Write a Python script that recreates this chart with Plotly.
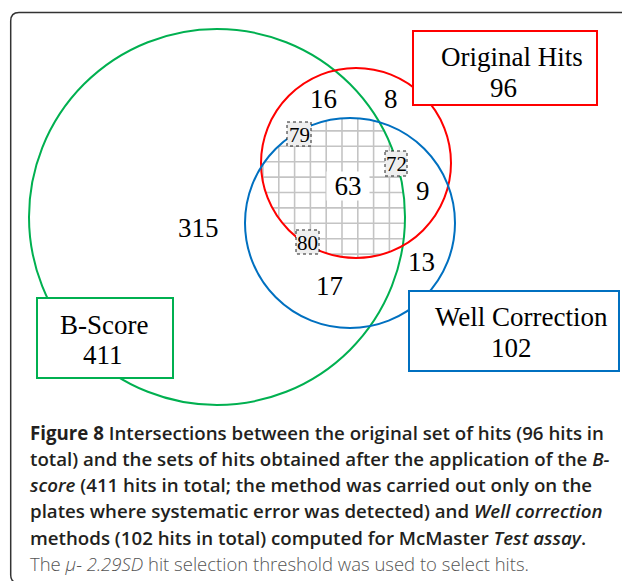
import plotly.graph_objects as go
import numpy as np

W, H = 622, 581

# ---------------- data ----------------
set_names = ["B-Score", "Original Hits", "Well Correction"]
set_totals = [411, 96, 102]
region_names = ["B only", "Orig only (in B)", "Orig only", "Orig & Well", "Well only", "B & Well", "All three"]
region_counts = [315, 16, 8, 9, 13, 17, 63]
plate_labels = [79, 72, 80]

caption_lines = [
    "<b>Figure 8</b> Intersections between the original set of hits (96 hits in",
    "total) and the sets of hits obtained after the application of the <i>B-</i>",
    "<i>score</i> (411 hits in total; the method was carried out only on the",
    "plates where systematic error was detected) and <i>Well correction</i>",
    "methods (102 hits in total) computed for McMaster <i>Test assay</i>.",
]
note_line = "The <i>μ- 2.29SD</i> hit selection threshold was used to select hits."

# ---------------- layout geometry (pixels) ----------------
circles = {  # cx, cy, r
    "B-Score": (217, 217, 188),
    "Original Hits": (356, 163, 95),
    "Well Correction": (350, 223, 105),
}
colors = {"B-Score": "#00B050", "Original Hits": "#FF0000", "Well Correction": "#0070C0"}
boxes = {  # x0, y0, x1, y1
    "B-Score": (37, 298, 173, 378),
    "Original Hits": (413, 31, 597, 105),
    "Well Correction": (409, 291, 619, 371),
}
box_text_pos = {  # (name center), (total center)
    "B-Score": ((104, 325), (103, 355)),
    "Original Hits": ((512, 57), (503, 88)),
    "Well Correction": ((521, 317), (511, 348)),
}
region_pos = [(198, 228), (323, 99), (391, 99), (423, 191), (421, 262), (329, 286), (348, 186)]
plate_boxes = [(287, 122, 311, 146), (385, 151, 407, 176), (296, 230, 319, 254)]

fig = go.Figure()

# hatch grid inside the triple intersection
def interval(c, val, axis):
    cx, cy, r = c
    d = (val - cx) if axis == "x" else (val - cy)
    if abs(d) >= r:
        return None
    h = np.sqrt(r * r - d * d)
    mid = cy if axis == "x" else cx
    return (mid - h, mid + h)

gx, gy = [], []
step_x, step_y = 15.8, 15.4
xs = 263 + step_x * np.arange(-2, 14)
ys = 161.7 + step_y * np.arange(-4, 10)
for x in xs:
    ivs = [interval(c, x, "x") for c in circles.values()]
    if any(i is None for i in ivs):
        continue
    lo = max(i[0] for i in ivs); hi = min(i[1] for i in ivs)
    if hi > lo:
        gx += [x, x, None]; gy += [lo, hi, None]
for y in ys:
    ivs = [interval(c, y, "y") for c in circles.values()]
    if any(i is None for i in ivs):
        continue
    lo = max(i[0] for i in ivs); hi = min(i[1] for i in ivs)
    if hi > lo:
        gx += [lo, hi, None]; gy += [y, y, None]
fig.add_trace(go.Scatter(x=gx, y=gy, mode="lines", line=dict(color="#c4c4c4", width=1.6),
                         hoverinfo="skip", showlegend=False))

shapes = []
# outer frame
shapes.append(dict(type="path", xref="x", yref="y",
                   path="M 640,12.5 L 19,12.5 Q 10.7,12.5 10.7,21 L 10.7,575 Q 10.7,583 19,583 L 640,583",
                   line=dict(color="#333333", width=1.5)))
for name in ["B-Score", "Original Hits", "Well Correction"]:
    cx, cy, r = circles[name]
    shapes.append(dict(type="circle", xref="x", yref="y", x0=cx - r, x1=cx + r, y0=cy - r, y1=cy + r,
                       line=dict(color=colors[name], width=2)))
for name in set_names:
    x0, y0, x1, y1 = boxes[name]
    shapes.append(dict(type="rect", xref="x", yref="y", x0=x0, x1=x1, y0=y0, y1=y1,
                       line=dict(color=colors[name], width=2), fillcolor="white"))
for (x0, y0, x1, y1) in plate_boxes:
    shapes.append(dict(type="rect", xref="x", yref="y", x0=x0, x1=x1, y0=y0, y1=y1,
                       line=dict(color="#222222", width=1, dash="dot"), fillcolor="#efefef"))

ann = []
serif = "Liberation Serif"
for name, tot in zip(set_names, set_totals):
    (nx, ny), (tx, ty) = box_text_pos[name]
    ann.append(dict(x=nx, y=ny, text=name, showarrow=False, font=dict(family=serif, size=27, color="black")))
    ann.append(dict(x=tx, y=ty, text=str(tot), showarrow=False, font=dict(family=serif, size=27, color="black")))
for cnt, (px, py) in zip(region_counts, region_pos):
    a = dict(x=px, y=py, text=str(cnt), showarrow=False, font=dict(family=serif, size=27, color="black"))
    if cnt == 63:
        a.update(bgcolor="white", width=40, height=26)
    ann.append(a)
for lab, (x0, y0, x1, y1) in zip(plate_labels, plate_boxes):
    ann.append(dict(x=(x0 + x1) / 2, y=(y0 + y1) / 2 + 0.5, text=str(lab), showarrow=False,
                    font=dict(family=serif, size=21, color="black")))

cap_font = "Open Sans"
for i, line in enumerate(caption_lines):
    ann.append(dict(x=28, y=432 + 26.3 * i, xanchor="left", yanchor="middle", text=line, showarrow=False,
                    font=dict(family=cap_font, size=18.7, color="#231f20", weight=600)))
ann.append(dict(x=28, y=432 + 26.3 * 5, xanchor="left", yanchor="middle", text=note_line, showarrow=False,
                font=dict(family=cap_font, size=18.5, color="#555555", weight=300)))

for a in ann:
    a.update(xref="x", yref="y")

fig.update_layout(
    width=W, height=H, margin=dict(l=0, r=0, t=0, b=0),
    paper_bgcolor="white", plot_bgcolor="white",
    xaxis=dict(range=[0, W], visible=False, fixedrange=True),
    yaxis=dict(range=[H, 0], visible=False, fixedrange=True),
    shapes=shapes, annotations=ann, showlegend=False,
)
fig.write_html("out.html", config={"displayModeBar": False},
               post_script="document.body.style.margin='0';document.body.style.overflow='hidden';")
